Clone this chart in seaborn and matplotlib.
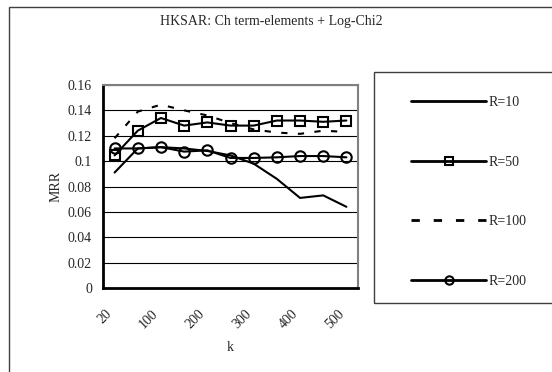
import matplotlib
matplotlib.use("Agg")
import matplotlib.pyplot as plt
import seaborn as sns
import numpy as np
from matplotlib.lines import Line2D
from matplotlib.patches import Rectangle
from matplotlib.transforms import ScaledTranslation

k_values = ['20', '50', '100', '150', '200', '250', '300', '350', '400', '450', '500']
shown_labels = ['20', '100', '200', '300', '400', '500']
R10 = [0.091, 0.110, 0.111, 0.110, 0.108, 0.1045, 0.098, 0.086, 0.071, 0.073, 0.064]
R50 = [0.1045, 0.124, 0.134, 0.128, 0.1305, 0.128, 0.128, 0.132, 0.132, 0.131, 0.132]
R100 = [0.118, 0.139, 0.1445, 0.140, 0.136, 0.130, 0.125, 0.1225, 0.1215, 0.124, 0.123]
R200 = [0.110, 0.110, 0.111, 0.1075, 0.1085, 0.1025, 0.1025, 0.103, 0.104, 0.104, 0.103]
series_names = ['R=10', 'R=50', 'R=100', 'R=200']
y_ticks = [0, 0.02, 0.04, 0.06, 0.08, 0.1, 0.12, 0.14, 0.16]
y_labels = ['0', '0.02', '0.04', '0.06', '0.08', '0.1', '0.12', '0.14', '0.16']

sns.set_style("white")
plt.rcParams['font.family'] = ['Liberation Serif', 'DejaVu Serif']

W, H = 552, 372
fig = plt.figure(figsize=(W / 100, H / 100), dpi=100)
fig.patch.set_facecolor('white')

ax = fig.add_axes([103 / W, 1 - 288 / H, (358 - 103) / W, (288 - 85) / H])
x = np.arange(len(k_values))

sns.lineplot(x=x, y=R10, ax=ax, color='black', lw=1.5, legend=False)
sns.lineplot(x=x, y=R50, ax=ax, color='black', lw=1.5, marker='s', markersize=7,
             markerfacecolor='none', markeredgecolor='black', markeredgewidth=1.5, legend=False)
sns.lineplot(x=x, y=R100, ax=ax, color='black', lw=1.5, linestyle=(0, (3, 5)), legend=False)
sns.lineplot(x=x, y=R200, ax=ax, color='black', lw=1.5, marker='o', markersize=7.5,
             markerfacecolor='none', markeredgecolor='black', markeredgewidth=1.5, legend=False)

ax.set_xlim(-0.5, len(k_values) - 0.5)
ax.set_ylim(0, 0.16)
ax.set_yticks(y_ticks)
ax.set_yticklabels(y_labels, fontsize=10)
shown_pos = [k_values.index(s) for s in shown_labels]
ax.set_xticks(shown_pos)
ax.set_xticklabels(shown_labels, rotation=45, ha='right', va='top', fontsize=10)
off = ScaledTranslation(-6 / 100, 0, fig.dpi_scale_trans)
for lab in ax.get_xticklabels():
    lab.set_transform(lab.get_transform() + off)
ax.set_xticks(np.arange(-0.5, len(k_values)), minor=True)
ax.tick_params(axis='x', which='major', length=0, pad=14)
ax.tick_params(axis='x', which='minor', direction='in', length=4, width=1, color='black')
ax.tick_params(axis='y', which='major', direction='out', length=3, width=1, color='black', pad=5)
ax.grid(axis='y', color='black', lw=0.8)
ax.set_axisbelow(True)
for s in ['top', 'right']:
    ax.spines[s].set_color('#808080')
    ax.spines[s].set_linewidth(1.5)
for s in ['left', 'bottom']:
    ax.spines[s].set_color('black')
    ax.spines[s].set_linewidth(2)
ax.set_xlabel('k', fontsize=10, labelpad=7)
ax.set_ylabel('MRR', fontsize=10, labelpad=4)

fig.text(271 / W, 1 - 21 / H, 'HKSAR: Ch term-elements + Log-Chi2', ha='center', va='center', fontsize=10)

# chart area border
fig.patches.append(Rectangle((9 / W, -0.1), 2, 1.1 - 7 / H, transform=fig.transFigure,
                             fill=False, edgecolor='#404040', lw=1))
# legend box
fig.patches.append(Rectangle((374 / W, 1 - 303 / H), 1, (303 - 72) / H, transform=fig.transFigure,
                             fill=False, edgecolor='#404040', lw=1))

handles = [
    Line2D([], [], color='black', lw=2),
    Line2D([], [], color='black', lw=2, marker='s', markersize=6, mfc='none', mew=1.5),
    Line2D([], [], color='black', lw=2, linestyle=(0, (3, 5))),
    Line2D([], [], color='black', lw=2, marker='o', markersize=6, mfc='none', mew=1.5),
]
leg = fig.legend(handles, series_names, loc='upper left', bbox_to_anchor=(411 / W, 1 - 96 / H),
                 frameon=False, fontsize=10, handlelength=5.4, handletextpad=0.15,
                 labelspacing=3.35, borderpad=0, borderaxespad=0)

fig.savefig('out.png', dpi=100)
